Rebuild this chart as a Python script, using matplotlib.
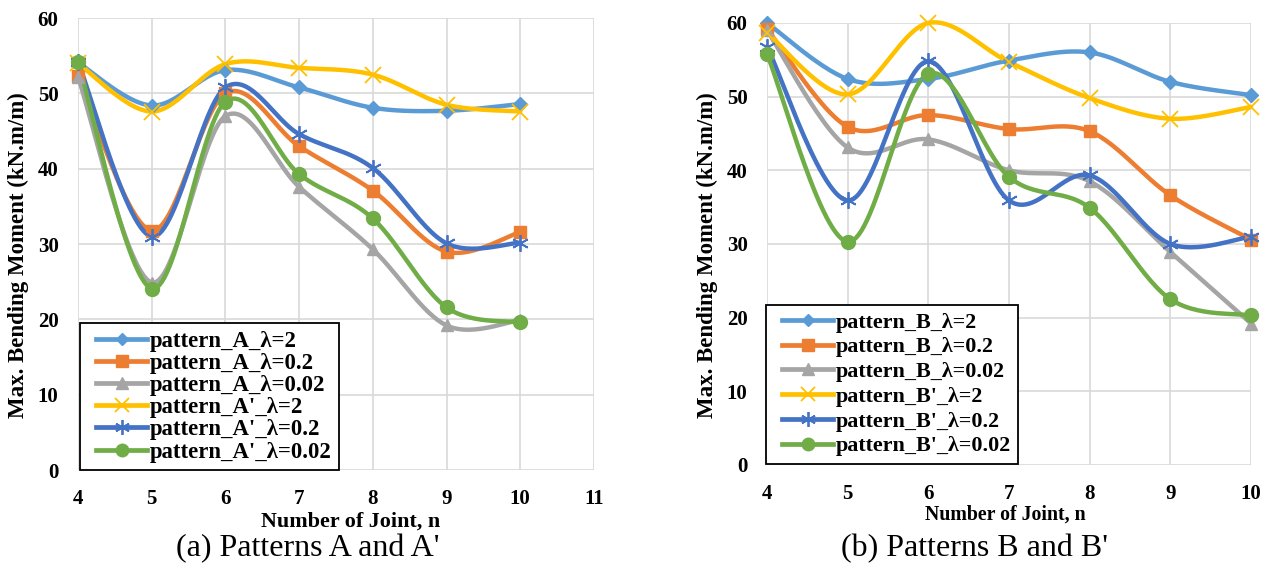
import numpy as np
import matplotlib
matplotlib.use("Agg")
import matplotlib.pyplot as plt
from matplotlib.lines import Line2D
from matplotlib.legend_handler import HandlerLine2D

plt.rcParams['font.family'] = ['Liberation Serif', 'DejaVu Serif']

joints = [4, 5, 6, 7, 8, 9, 10]

labels_a = ["pattern_A_λ=2", "pattern_A_λ=0.2", "pattern_A_λ=0.02",
            "pattern_A'_λ=2", "pattern_A'_λ=0.2", "pattern_A'_λ=0.02"]
a_l2 = [54.1, 48.4, 53.1, 50.8, 48.1, 47.7, 48.6]
a_l02 = [52.3, 31.8, 50.0, 43.0, 37.1, 29.0, 31.6]
a_l002 = [52.2, 24.9, 47.0, 37.6, 29.3, 19.2, 19.9]
ap_l2 = [54.0, 47.6, 53.9, 53.4, 52.5, 48.5, 47.6]
ap_l02 = [54.2, 31.0, 50.8, 44.6, 40.1, 30.1, 30.2]
ap_l002 = [54.2, 24.1, 48.9, 39.3, 33.4, 21.6, 19.6]

labels_b = ["pattern_B_λ=2", "pattern_B_λ=0.2", "pattern_B_λ=0.02",
            "pattern_B'_λ=2", "pattern_B'_λ=0.2", "pattern_B'_λ=0.02"]
b_l2 = [60.0, 52.4, 52.4, 54.9, 56.0, 52.0, 50.2]
b_l02 = [59.2, 45.9, 47.5, 45.6, 45.3, 36.6, 30.6]
b_l002 = [59.0, 43.1, 44.2, 40.0, 38.5, 28.9, 19.2]
bp_l2 = [58.7, 50.3, 60.0, 54.7, 49.8, 47.0, 48.6]
bp_l02 = [56.8, 35.9, 54.8, 35.9, 39.3, 30.0, 31.0]
bp_l002 = [55.8, 30.3, 53.1, 39.1, 34.9, 22.5, 20.3]

colors = ['#5B9BD5', '#ED7D31', '#A5A5A5', '#FFC000', '#4472C4', '#70AD47']
markers = ['D', 's', '^', 'x', (6, 2, 0), 'o']
msizes = [7, 9, 9, 11, 12, 10]


def smooth(x, y, n=30):
    x = np.asarray(x, float)
    y = np.asarray(y, float)
    px = np.concatenate([[x[0]], x, [x[-1]]])
    py = np.concatenate([[y[0]], y, [y[-1]]])
    xs, ys = [], []
    t = np.linspace(0, 1, n)
    for i in range(len(x) - 1):
        p0 = np.array([px[i + 1], py[i + 1]])
        p3 = np.array([px[i + 2], py[i + 2]])
        c1 = p0 + (np.array([px[i + 2], py[i + 2]]) - np.array([px[i], py[i]])) / 6
        c2 = p3 - (np.array([px[i + 3], py[i + 3]]) - np.array([px[i + 1], py[i + 1]])) / 6
        b = ((1 - t) ** 3)[:, None] * p0 + (3 * (1 - t) ** 2 * t)[:, None] * c1 \
            + (3 * (1 - t) * t ** 2)[:, None] * c2 + (t ** 3)[:, None] * p3
        xs.append(b[:, 0])
        ys.append(b[:, 1])
    return np.concatenate(xs), np.concatenate(ys)


class OffsetHandler(HandlerLine2D):
    def __init__(self, offset_px, **kw):
        super().__init__(**kw)
        self.offset_px = offset_px

    def create_artists(self, legend, orig_handle, xdescent, ydescent, width, height,
                       fontsize, trans):
        off = self.offset_px * 72.0 / legend.figure.dpi
        return super().create_artists(legend, orig_handle, xdescent - off, ydescent,
                                      width - off, height, fontsize, trans)


fig = plt.figure(figsize=(12.74, 5.67), dpi=100)
ax1 = fig.add_axes([0.0612, 0.171, 0.405, 0.797])
ax2 = fig.add_axes([0.602, 0.180, 0.380, 0.7795])


def draw(ax, series, labels, xmax, legend_bbox, legsize, legspacing,
         xlab_size, xlab_pos, ylab_pos):
    for k, ys in enumerate(series):
        sx, sy = smooth(joints, ys)
        ax.plot(sx, sy, color=colors[k], lw=3.2, zorder=3 + k * 0.1,
                solid_capstyle='round', clip_on=False)
        mk = markers[k]
        if mk in ('x',) or isinstance(mk, tuple):
            ax.plot(joints, ys, ls='none', marker=mk, ms=msizes[k], mec=colors[k],
                    mew=1.3, zorder=4 + k * 0.1, clip_on=False)
        else:
            ax.plot(joints, ys, ls='none', marker=mk, ms=msizes[k], mfc=colors[k],
                    mec=colors[k], zorder=4 + k * 0.1, clip_on=False)
    ax.set_xlim(4, xmax)
    ax.set_ylim(0, 60)
    ax.set_xticks(range(4, xmax + 1))
    ax.set_yticks(range(0, 61, 10))
    ax.grid(True, color='#D9D9D9', lw=1.2)
    ax.set_axisbelow(True)
    for s in ax.spines.values():
        s.set_visible(False)
    ax.tick_params(length=0, labelsize=15)
    ax.tick_params(axis='x', pad=14)
    ax.tick_params(axis='y', pad=14)
    for lab in ax.get_xticklabels() + ax.get_yticklabels():
        lab.set_fontweight('bold')
    xl = ax.set_xlabel('Number of Joint, n', fontsize=xlab_size, fontweight='bold')
    xl.set_va('center')
    ax.xaxis.set_label_coords(*xlab_pos)
    yl = ax.set_ylabel('Max. Bending Moment (kN.m/m)', fontsize=16.5, fontweight='bold')
    yl.set_va('center')
    ax.yaxis.set_label_coords(*ylab_pos)
    handles = []
    for k in range(6):
        mk = markers[k]
        if mk in ('x',) or isinstance(mk, tuple):
            h = Line2D([], [], color=colors[k], lw=3.4, marker=mk, ms=msizes[k] * 0.9,
                       mec=colors[k], mew=1.3)
        else:
            h = Line2D([], [], color=colors[k], lw=3.4, marker=mk, ms=msizes[k] * 0.9,
                       mfc=colors[k], mec=colors[k])
        handles.append(h)
    fs_px = legsize * 100 / 72.0
    handler = OffsetHandler(9)
    leg = ax.legend(handles, labels, loc='lower left', bbox_to_anchor=legend_bbox,
                    prop={'family': 'Liberation Serif', 'weight': 'bold', 'size': legsize},
                    frameon=True, fancybox=False, edgecolor='black', framealpha=1,
                    handlelength=(51 + 9) / fs_px, handletextpad=0.12,
                    labelspacing=legspacing, borderpad=0.33, borderaxespad=0,
                    handler_map={Line2D: handler})
    leg.get_frame().set_linewidth(1.3)
    leg.set_zorder(10)


draw(ax1, [a_l2, a_l02, a_l002, ap_l2, ap_l02, ap_l002], labels_a, 11, (0.003, 0.0),
     16.4, 0.05, 15.9, (0.529, -0.113), (-0.116, 0.476))
draw(ax2, [b_l2, b_l02, b_l002, bp_l2, bp_l02, bp_l002], labels_b, 10, (-0.002, 0.003),
     15.8, 0.2, 14.3, (0.492, -0.113), (-0.124, 0.475))

fig.text(0.2417, 0.033, "(a) Patterns A and A'", ha='center', va='center', fontsize=23)
fig.text(0.765, 0.033, "(b) Patterns B and B'", ha='center', va='center', fontsize=23)

fig.savefig('out.png', dpi=100)
